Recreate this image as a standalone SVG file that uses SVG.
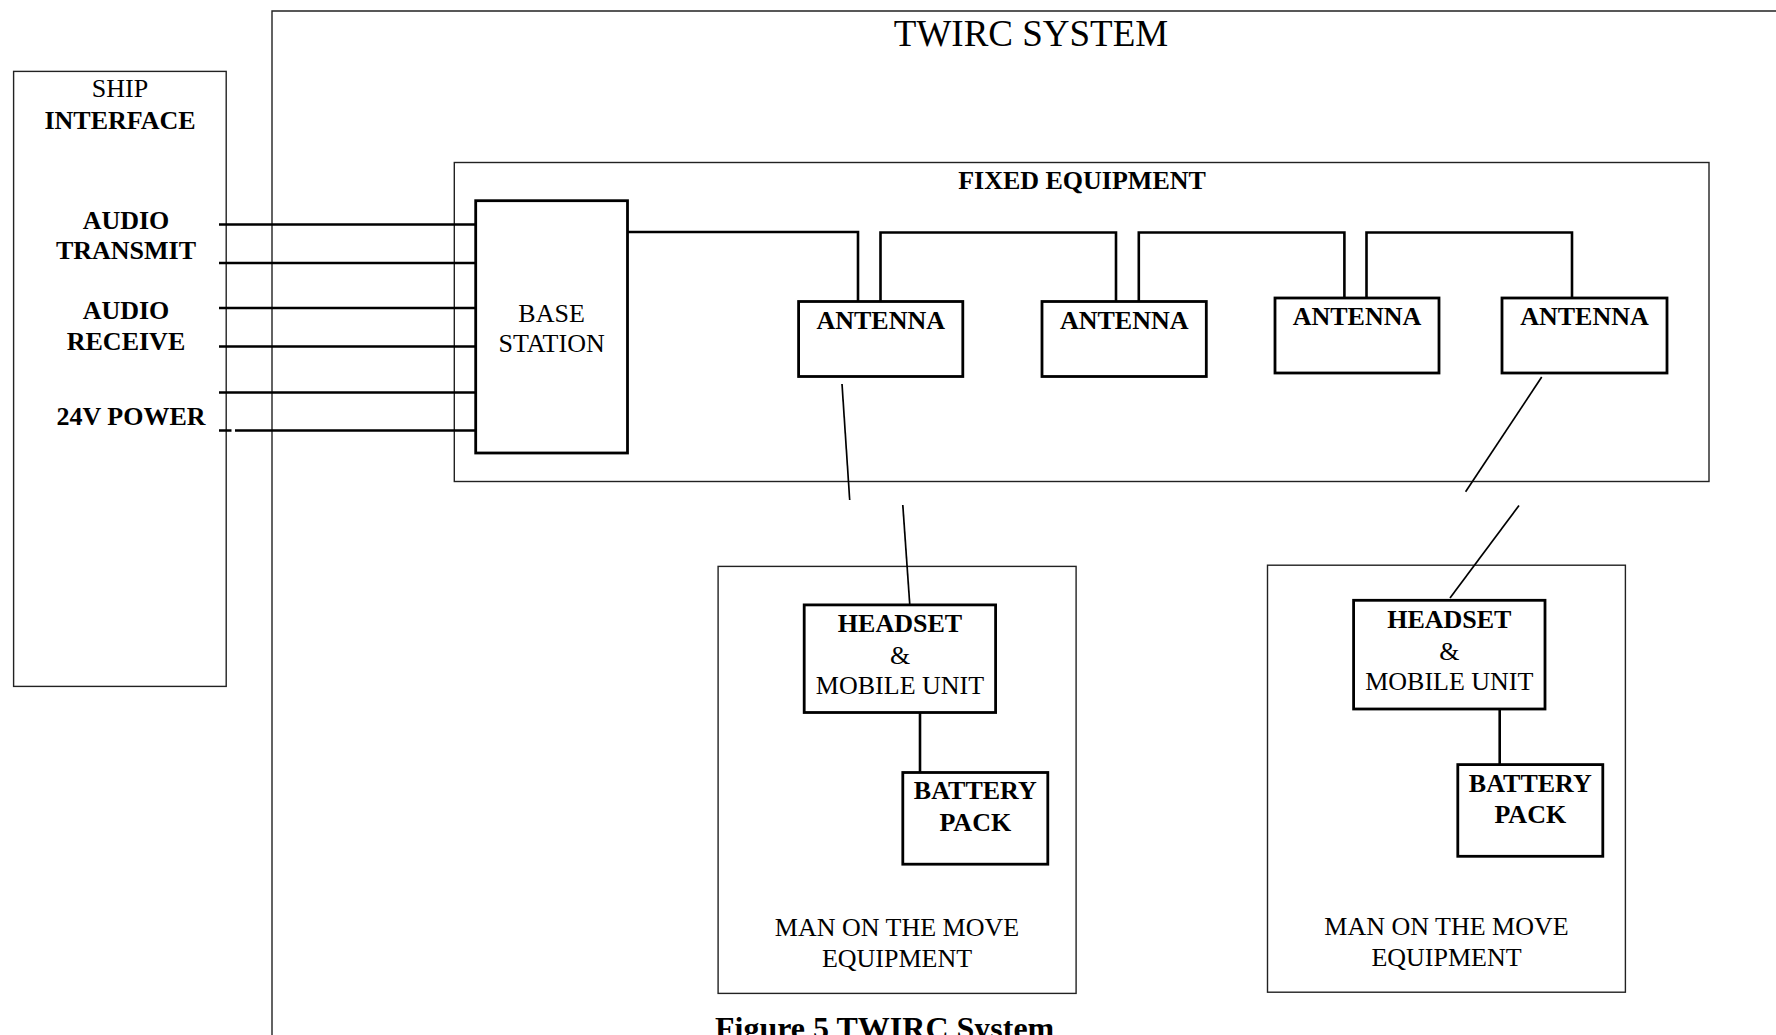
<svg xmlns="http://www.w3.org/2000/svg" width="1776" height="1035" viewBox="0 0 1776 1035">
<style>
text{font-family:"Liberation Serif","Times New Roman",serif;font-size:26px;fill:#000;text-anchor:middle}
.b{font-weight:bold}
.cont{fill:none;stroke:#222;stroke-width:1.4}
.node{fill:#fff;stroke:#000;stroke-width:2.8}
.wire{fill:none;stroke:#000;stroke-width:2.6}
.rf{fill:none;stroke:#000;stroke-width:1.7}
</style>
<rect width="1776" height="1035" fill="#fff"/>
<g id="twirc-system">
<path class="cont" d="M1778,11 H272 V1040"/>
<text x="1031" y="45.5" style="font-size:37px">TWIRC SYSTEM</text>
</g>
<g id="ship-interface">
<rect class="cont" x="13.6" y="71.4" width="212.6" height="615"/>
<text x="120" y="97">SHIP</text>
<text class="b" x="120" y="129">INTERFACE</text>
<text class="b" x="126" y="228.5">AUDIO</text>
<text class="b" x="126" y="259">TRANSMIT</text>
<text class="b" x="126" y="319">AUDIO</text>
<text class="b" x="126" y="350">RECEIVE</text>
<text class="b" x="131" y="425">24V POWER</text>
</g>
<g id="fixed-equipment">
<rect class="cont" x="454.3" y="162.5" width="1254.7" height="319"/>
<text class="b" x="1082" y="189">FIXED EQUIPMENT</text>
</g>
<g id="man-on-the-move-1">
<rect class="cont" x="718.1" y="566.4" width="358" height="427"/>
<text x="897" y="936">MAN ON THE MOVE</text>
<text x="897" y="967">EQUIPMENT</text>
</g>
<g id="man-on-the-move-2">
<rect class="cont" x="1267.5" y="565.2" width="357.9" height="427"/>
<text x="1446.5" y="935">MAN ON THE MOVE</text>
<text x="1446.5" y="966">EQUIPMENT</text>
</g>
<g id="connectors">
<path class="wire" d="M219,224.5 H476 M219,263 H476 M219,308 H476 M219,346.5 H476 M219,392.5 H476 M219,430.5 H231.5 M235,430.5 H476"/>
<path class="wire" d="M627.5,232 H858 V301.5"/>
<path class="wire" d="M880.5,301.5 V232.5 H1116 V301.5"/>
<path class="wire" d="M1138.8,301.5 V232.5 H1344.4 V298"/>
<path class="wire" d="M1366.5,298 V232.5 H1572 V298"/>
<path class="wire" d="M920,712.5 V772.5"/>
<path class="wire" d="M1499.7,709 V764.6"/>
<path class="rf" d="M842,384 L849.7,500"/>
<path class="rf" d="M902.8,505 L909.8,605"/>
<path class="rf" d="M1541.7,377 L1465.6,491.7"/>
<path class="rf" d="M1519,505.5 L1450,598"/>
</g>
<g id="base-station">
<rect class="node" x="475.7" y="200.7" width="151.8" height="252.3"/>
<text x="551.6" y="321.7">BASE</text>
<text x="551.6" y="352">STATION</text>
</g>
<g id="antenna-1">
<rect class="node" x="798.6" y="301.5" width="164.2" height="75"/>
<text class="b" x="880.7" y="329">ANTENNA</text>
</g>
<g id="antenna-2">
<rect class="node" x="1042" y="301.5" width="164.3" height="75"/>
<text class="b" x="1124.2" y="329">ANTENNA</text>
</g>
<g id="antenna-3">
<rect class="node" x="1275" y="298" width="164" height="75"/>
<text class="b" x="1357" y="325">ANTENNA</text>
</g>
<g id="antenna-4">
<rect class="node" x="1502" y="298" width="165" height="75"/>
<text class="b" x="1584.5" y="325">ANTENNA</text>
</g>
<g id="headset-1">
<rect class="node" x="804.2" y="604.9" width="191.4" height="107.6"/>
<text class="b" x="900" y="632">HEADSET</text>
<text x="900" y="664">&amp;</text>
<text x="900" y="694">MOBILE UNIT</text>
</g>
<g id="battery-1">
<rect class="node" x="902.8" y="772.5" width="145" height="91.7"/>
<text class="b" x="975.3" y="799">BATTERY</text>
<text class="b" x="975.3" y="830.5">PACK</text>
</g>
<g id="headset-2">
<rect class="node" x="1353.6" y="600.3" width="191.4" height="108.7"/>
<text class="b" x="1449.3" y="628">HEADSET</text>
<text x="1449.3" y="659.5">&amp;</text>
<text x="1449.3" y="690">MOBILE UNIT</text>
</g>
<g id="battery-2">
<rect class="node" x="1457.8" y="764.6" width="145" height="91.7"/>
<text class="b" x="1530.3" y="791.5">BATTERY</text>
<text class="b" x="1530.3" y="823">PACK</text>
</g>
<text class="b" x="715" y="1039" style="font-size:32px;text-anchor:start">Figure 5 TWIRC System</text>
</svg>
